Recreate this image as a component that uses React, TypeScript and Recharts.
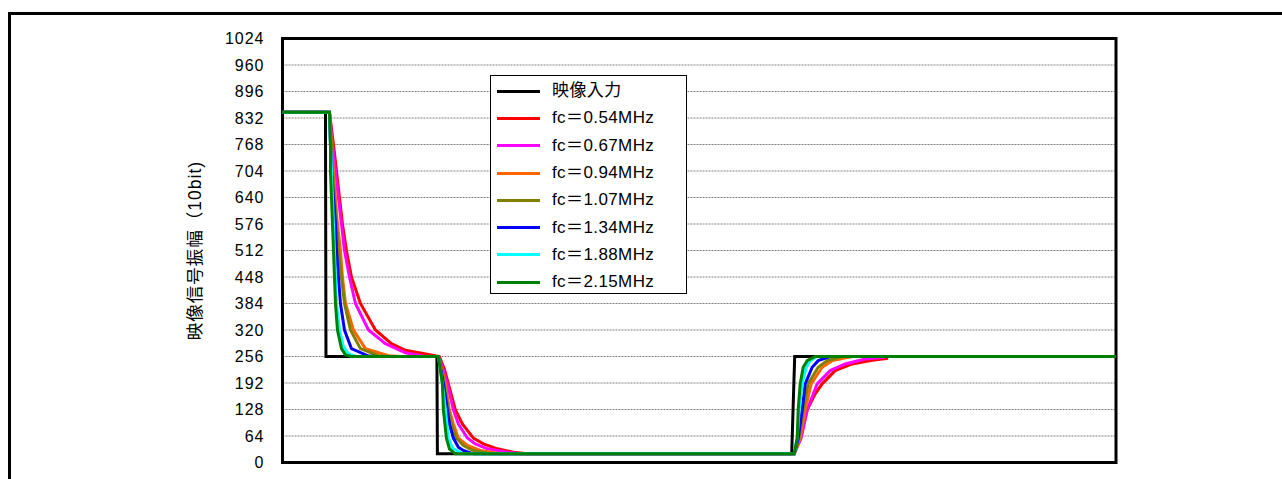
import { LineChart, Line, XAxis, YAxis, CartesianGrid, ReferenceArea, Legend } from "recharts";

type Pt = [number, number];

const FONT = '"Liberation Sans", Arial, "Noto Sans CJK JP", sans-serif';

const yTicks = [0, 64, 128, 192, 256, 320, 384, 448, 512, 576, 640, 704, 768, 832, 896, 960, 1024];

const seriesNames = [
  "映像入力",
  "fc＝0.54MHz",
  "fc＝0.67MHz",
  "fc＝0.94MHz",
  "fc＝1.07MHz",
  "fc＝1.34MHz",
  "fc＝1.88MHz",
  "fc＝2.15MHz",
];

const seriesColors = ["#000000", "#ff0000", "#ff00ff", "#ff6600", "#808000", "#0000ff", "#00ffff", "#008000"];

// sample position / 10bit level
const input: Pt[] = [[1, 846], [44, 846], [44.5, 256], [155.5, 256], [156, 21], [510.5, 21], [513.5, 256], [835, 256]];

const fc054: Pt[] = [
  [1, 846], [48, 846], [52, 768], [55, 704], [58, 640], [61, 576], [65, 512], [70, 448], [79, 384], [94, 320],
  [110, 287], [124, 271], [147, 261], [155, 257], [158, 256], [163, 225], [167, 190], [174, 127], [181, 93],
  [192, 59], [202, 45], [216, 33], [232, 25], [246, 21], [513, 21], [519, 59], [526, 127], [534, 166],
  [541, 190], [554, 222], [571, 238], [591, 247], [607, 252],
];

const fc067: Pt[] = [
  [1, 846], [48, 846], [51, 768], [54, 704], [57, 640], [60, 576], [63, 512], [68, 448], [74, 384], [87, 320],
  [104, 287], [124, 265], [144, 256], [157, 256], [161, 230], [166, 190], [172, 127], [177, 93], [186, 59],
  [194, 45], [206, 33], [226, 25], [239, 21], [513, 21], [520, 59], [526, 127], [536, 190], [549, 222],
  [564, 238], [584, 250], [604, 254],
];

const fc094: Pt[] = [
  [1, 846], [48, 846], [50, 768], [52, 704], [54, 640], [56, 576], [59, 512], [61, 448], [64, 384], [72, 320],
  [84, 275], [107, 258], [120, 256], [157, 256], [164, 190], [168, 127], [172, 93], [177, 59], [186, 41],
  [199, 29], [219, 21], [513, 21], [519, 59], [524, 127], [530, 190], [541, 230], [551, 246], [571, 256],
  [835, 256],
];

const fc107: Pt[] = [
  [1, 846], [48, 846], [50, 768], [51, 704], [53, 640], [55, 576], [57, 512], [60, 448], [63, 384], [69, 320],
  [79, 275], [97, 258], [110, 256], [157, 256], [163, 190], [167, 127], [170, 93], [175, 59], [182, 41],
  [192, 29], [209, 21], [513, 21], [518, 59], [522, 127], [527, 190], [537, 230], [546, 246], [561, 256],
  [835, 256],
];

const fc134: Pt[] = [
  [1, 846], [48, 846], [49, 768], [50, 704], [52, 640], [54, 576], [55, 512], [57, 448], [59, 384], [63, 320],
  [70, 275], [87, 257], [94, 256], [157, 256], [162, 190], [166, 127], [168, 93], [172, 59], [177, 37],
  [182, 29], [192, 21], [513, 21], [517, 59], [521, 127], [524, 190], [531, 230], [537, 246], [549, 256],
  [835, 256],
];

const fc188: Pt[] = [
  [1, 846], [48, 846], [49, 768], [50, 704], [51, 640], [52, 576], [53, 512], [54, 448], [55, 384], [58, 320],
  [62, 280], [67, 262], [74, 256], [157, 256], [161, 190], [164, 127], [167, 59], [171, 35], [181, 21],
  [513, 21], [516, 59], [518, 127], [521, 190], [525, 230], [529, 246], [536, 256], [835, 256],
];

const fc215: Pt[] = [
  [1, 846], [48, 846], [49, 768], [49, 704], [50, 640], [51, 576], [52, 512], [53, 448], [54, 384], [56, 320],
  [60, 275], [64, 260], [70, 256], [157, 256], [161, 190], [162, 127], [165, 59], [168, 33], [174, 21],
  [513, 21], [516, 59], [517, 127], [519, 190], [522, 230], [526, 246], [534, 256], [835, 256],
];

const seriesPoints = [input, fc054, fc067, fc094, fc107, fc134, fc188, fc215];

const toRows = (pts: Pt[]) => pts.map(([x, v]) => ({ x, v }));

function LegendBox({ payload }: any) {
  // keep the series order, not alphabetical
  const items = [...(payload || [])].sort(
    (a: any, b: any) => seriesNames.indexOf(a.value) - seriesNames.indexOf(b.value)
  );
  return (
    <div
      style={{
        width: 197,
        height: 219,
        border: "1px solid #000",
        background: "#fff",
        boxSizing: "border-box",
        paddingTop: 1.5,
        fontFamily: FONT,
      }}
    >
      {items.map((entry: any) => (
        <div key={entry.value} style={{ display: "flex", alignItems: "center", height: 27.3 }}>
          <span style={{ display: "block", width: 43, height: 3, background: entry.color, marginLeft: 6 }} />
          <span style={{ marginLeft: 12, fontSize: 17, letterSpacing: 0.4, color: "#000", lineHeight: "20px" }}>
            {entry.value}
          </span>
        </div>
      ))}
    </div>
  );
}

function YLabel({ viewBox }: any) {
  const cx = viewBox.x - 27.5;
  const cy = viewBox.y + viewBox.height / 2;
  return (
    <text
      x={cx}
      y={cy}
      transform={`rotate(-90, ${cx}, ${cy})`}
      textAnchor="middle"
      dominantBaseline="central"
      fontSize={17.5}
      letterSpacing={1}
      fontFamily={FONT}
      fill="#000"
    >
      映像信号振幅（10bit)
    </text>
  );
}

export default function App() {
  return (
    <div
      style={{
        position: "fixed",
        left: 0,
        top: 0,
        width: 1282,
        height: 479,
        overflow: "hidden",
        background: "#fff",
        fontFamily: FONT,
      }}
    >
      <div
        style={{
          position: "absolute",
          left: 8,
          top: 12,
          width: 1400,
          height: 600,
          border: "3px solid #000",
        }}
      />
      <div style={{ position: "absolute", left: 0, top: 0 }}>
        <LineChart width={1282} height={479} margin={{ top: 38.5, right: 166, bottom: 16.5, left: 222.5 }}>
          <CartesianGrid vertical={false} stroke="#808080" strokeDasharray="2 1" />
          <XAxis type="number" dataKey="x" domain={[1, 835]} hide allowDataOverflow />
          <YAxis
            type="number"
            domain={[0, 1024]}
            ticks={yTicks}
            interval={0}
            width={60}
            tickLine={false}
            axisLine={false}
            tickMargin={12}
            tick={{ fill: "#000", fontSize: 16, letterSpacing: 1, fontFamily: FONT }}
            label={{ content: YLabel }}
          />
          <ReferenceArea x1={1} x2={835} y1={0} y2={1024} fill="none" stroke="#000" strokeWidth={3} />
          {seriesPoints.map((pts, i) => (
            <Line
              key={seriesNames[i]}
              data={toRows(pts)}
              dataKey="v"
              name={seriesNames[i]}
              type="linear"
              stroke={seriesColors[i]}
              strokeWidth={3}
              dot={false}
              activeDot={false}
              legendType="line"
              isAnimationActive={false}
            />
          ))}
          <Legend
            layout="vertical"
            align="center"
            verticalAlign="middle"
            content={LegendBox}
            wrapperStyle={{ left: 490, top: 75, width: 197, height: 219 }}
          />
        </LineChart>
      </div>
    </div>
  );
}
